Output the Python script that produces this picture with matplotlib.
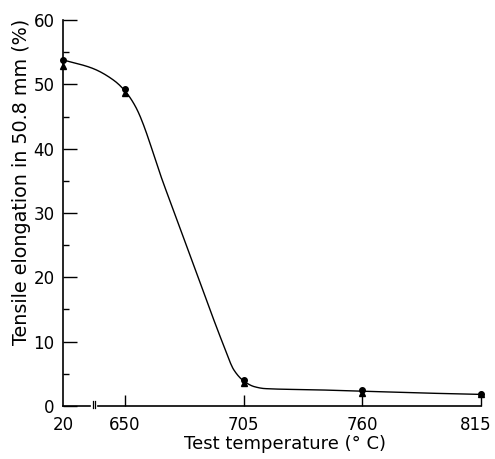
import numpy as np
import matplotlib
matplotlib.use("Agg")
import matplotlib.pyplot as plt
from matplotlib.transforms import ScaledTranslation

# ---- data ----
temps = [20, 650, 705, 760, 815]
tick_labels = ["20", "650", "705", "760", "815"]
circle_vals = [53.8, 49.2, 4.0, 2.5, 1.8]
triangle_vals = [52.8, 48.7, 3.6, 2.0, 1.8]
curve_T = [20, 320, 540, 650, 655, 668, 681, 696, 700.5, 705, 710, 715, 740, 760, 790, 815]
curve_y = [53.8, 52.5, 50.6, 49.0, 46.5, 34.5, 22.7, 9.2, 5.6, 3.9, 3.0, 2.7, 2.5, 2.3, 2.0, 1.8]

BREAK_W = 28.7  # display width (deg units) given to the 20..650 broken segment


def fwd(T):
    T = np.asarray(T, dtype=float)
    return np.where(T >= 650, T, 650 - (650 - T) * BREAK_W / 630.0)


def inv(x):
    x = np.asarray(x, dtype=float)
    return np.where(x >= 650, x, 650 - (650 - x) * 630.0 / BREAK_W)


def pchip(x, y, xn):
    x = np.asarray(x, float); y = np.asarray(y, float)
    h = np.diff(x); d = np.diff(y) / h
    n = len(x); m = np.zeros(n)
    for k in range(1, n - 1):
        if d[k - 1] * d[k] <= 0:
            m[k] = 0
        else:
            w1 = 2 * h[k] + h[k - 1]; w2 = h[k] + 2 * h[k - 1]
            m[k] = (w1 + w2) / (w1 / d[k - 1] + w2 / d[k])
    m[0] = d[0]; m[-1] = d[-1]
    out = np.empty_like(xn)
    idx = np.clip(np.searchsorted(x, xn) - 1, 0, n - 2)
    for i, xv in enumerate(xn):
        k = idx[i]; t = (xv - x[k]) / h[k]
        h00 = 2 * t**3 - 3 * t**2 + 1; h10 = t**3 - 2 * t**2 + t
        h01 = -2 * t**3 + 3 * t**2; h11 = t**3 - t**2
        out[i] = h00 * y[k] + h10 * h[k] * m[k] + h01 * y[k + 1] + h11 * h[k] * m[k + 1]
    return out


fig = plt.figure(figsize=(4.95, 4.59), dpi=100)
ax = fig.add_axes([0.127, 0.1155, 0.845, 0.8409])
ax.set_xscale("function", functions=(fwd, inv))

# smooth curve computed in display coordinates
cx = fwd(curve_T)
xs = np.linspace(cx[0], cx[-1], 400)
ys = pchip(cx, curve_y, xs)
ax.plot(inv(xs), ys, color="black", lw=1.0, zorder=3)

ax.plot(temps, circle_vals, "o", color="black", ms=4, zorder=4, clip_on=False)
ax.plot(temps, triangle_vals, "^", color="black", ms=4, zorder=4, clip_on=False)

ax.set_xlim(20, 815)
ax.set_ylim(0, 60)

for s in ["top", "right", "bottom"]:
    ax.spines[s].set_visible(False)
ax.spines["left"].set_linewidth(1.2)

# broken bottom axis
kw = dict(transform=ax.transAxes, color="black", lw=1.2, clip_on=False)
ax.plot([0, 0.066], [0, 0], **kw)
ax.plot([0.072, 0.072], [-0.006, 0.012], color="black", lw=0.9, transform=ax.transAxes, clip_on=False)
ax.plot([0.078, 0.078], [-0.006, 0.012], color="black", lw=0.9, transform=ax.transAxes, clip_on=False)
ax.plot([0.085, 1.0], [0, 0], **kw)

ax.set_xticks(temps)
ax.set_xticklabels(tick_labels)
ax.set_yticks(np.arange(0, 61, 10))
ax.set_yticks(np.arange(5, 60, 10), minor=True)
ax.xaxis.set_minor_locator(matplotlib.ticker.NullLocator())

ax.tick_params(axis="y", which="major", direction="in", length=10, width=1, labelsize=12, pad=6)
ax.tick_params(axis="y", which="minor", direction="in", length=4, width=1)
ax.tick_params(axis="x", which="major", direction="in", length=8, width=1, labelsize=12, pad=7)
ax.xaxis.get_major_ticks()[0].tick1line.set_visible(False)

# keep the last tick label inside the figure edge
last = ax.get_xticklabels()[-1]
last.set_transform(last.get_transform() + ScaledTranslation(-4 / 72, 0, fig.dpi_scale_trans))

ax.set_xlabel("Test temperature (° C)", fontsize=13, labelpad=3)
ax.xaxis.set_label_coords(0.531, -0.075)
ax.set_ylabel("Tensile elongation in 50.8 mm (%)", fontsize=13.8)
ax.yaxis.set_label_coords(-0.076, 0.58)

fig.savefig("out.png", dpi=100)
